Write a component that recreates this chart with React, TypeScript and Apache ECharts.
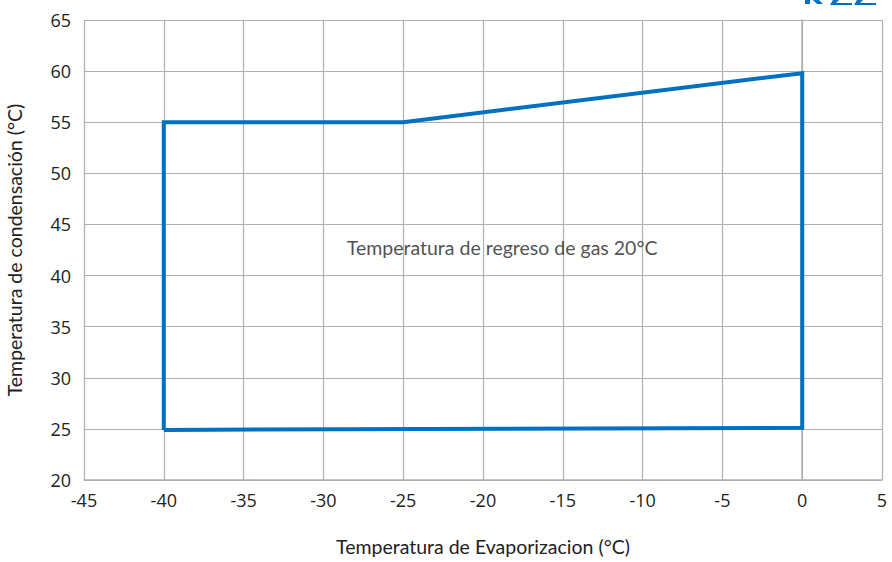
import React, { useEffect, useRef } from "react";
import * as echarts from "echarts";

const envelopeX = [-40, -40, -25, 0, 0, -40];
const envelopeY = [24.9, 55, 55, 59.8, 25.1, 24.9];
const xTicks = { min: -45, max: 5, interval: 5 };
const yTicks = { min: 20, max: 65, interval: 5 };
const labelText = "Temperatura de regreso de gas 20°C";
const labelPos = [-18.8, 42.7];
const xName = "Temperatura de Evaporizacion (°C)";
const yName = "Temperatura de condensación (°C)";

export default function App() {
  const ref = useRef<HTMLDivElement>(null);
  useEffect(() => {
    const chart = echarts.init(ref.current!, null, { renderer: "svg" });
    const data = envelopeX.map((x, i) => [x, envelopeY[i]]);
    chart.setOption({
      animation: false,
      grid: { left: 84, right: 10, top: 20, bottom: 82, containLabel: false, outerBoundsMode: "none" },
      xAxis: {
        type: "value",
        min: xTicks.min,
        max: xTicks.max,
        interval: xTicks.interval,
        name: xName,
        nameLocation: "middle",
        nameGap: 56,
        nameTextStyle: { fontFamily: "Lato", fontSize: 19.5, color: "#222" },
        axisLine: { show: true, lineStyle: { color: "#b0b0b0", width: 1.5 } },
        axisTick: { show: false },
        axisLabel: { fontFamily: "Open Sans", fontSize: 18, color: "#222", margin: 11 },
        splitLine: { show: true, lineStyle: { color: "#b0b0b0", width: 1.2 } },
      },
      yAxis: {
        type: "value",
        min: yTicks.min,
        max: yTicks.max,
        interval: yTicks.interval,
        name: yName,
        nameLocation: "middle",
        nameGap: 60,
        nameTextStyle: { fontFamily: "Lato", fontSize: 19.5, color: "#222" },
        axisLine: { show: true, lineStyle: { color: "#b0b0b0", width: 1.5 } },
        axisTick: { show: false },
        axisLabel: { fontFamily: "Open Sans", fontSize: 18, color: "#222", margin: 13 },
        splitLine: { show: true, lineStyle: { color: "#b0b0b0", width: 1.2 } },
      },
      series: [
        {
          type: "line",
          data,
          symbol: "none",
          lineStyle: { color: "#0070c0", width: 4, join: "miter" },
          z: 3,
        },
        {
          type: "scatter",
          data: [labelPos],
          symbolSize: 0,
          silent: true,
          label: {
            show: true,
            formatter: labelText,
            position: "inside",
            fontFamily: "Lato",
            fontSize: 19.5,
            color: "#222",
          },
          z: 4,
        },
      ],
      graphic: [
        { type: "polygon", shape: { points: [[805, 0], [810, 0], [810, 4], [805, 4]] }, style: { fill: "#0070c0" } },
        { type: "polygon", shape: { points: [[813, 0], [819, 0], [823, 4], [817, 4]] }, style: { fill: "#0070c0" } },
        { type: "polygon", shape: { points: [[833, 0], [839, 0], [836, 3], [852, 3], [852, 5], [830, 5]] }, style: { fill: "#0070c0" } },
        { type: "polygon", shape: { points: [[857, 0], [863, 0], [860, 3], [876, 3], [876, 5], [854, 5]] }, style: { fill: "#0070c0" } },
      ],
    });
    return () => chart.dispose();
  }, []);
  return <div ref={ref} style={{ width: 892, height: 562, position: "absolute", left: 0, top: 0 }} />;
}
